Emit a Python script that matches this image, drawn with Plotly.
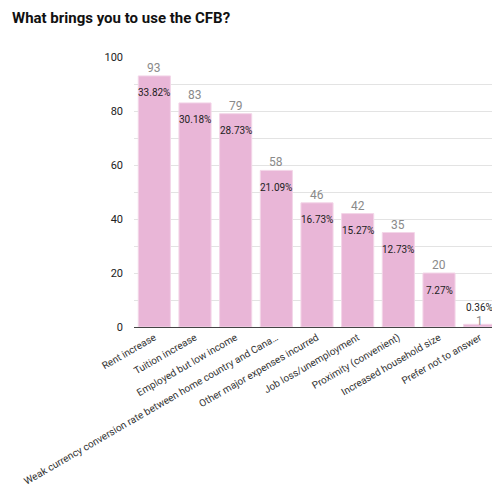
import plotly.graph_objects as go

categories = [
    "Rent increase",
    "Tuition increase",
    "Employed but low income",
    "Weak currency conversion rate between home country and Cana…",
    "Other major expenses incurred",
    "Job loss/unemployment",
    "Proximity (convenient)",
    "Increased household size",
    "Prefer not to answer",
]
counts = [93, 83, 79, 58, 46, 42, 35, 20, 1]
percents = ["33.82%", "30.18%", "28.73%", "21.09%", "16.73%", "15.27%", "12.73%", "7.27%", "0.36%"]
y_tick_vals = [0, 10, 20, 30, 40, 50, 60, 70, 80, 90, 100]
y_tick_text = ["0", "", "20", "", "40", "", "60", "", "80", "", "100"]

fig = go.Figure()
fig.add_trace(go.Bar(
    x=categories, y=counts,
    marker=dict(color="#e9b6d7", line=dict(color="#f3d6e8", width=1)),
    width=0.79,
    hoverinfo="skip",
))

annotations = []
for i, (c, v, p) in enumerate(zip(categories, counts, percents)):
    small = v < 5
    annotations.append(dict(
        x=c, y=v, xref="x", yref="y", text=str(v), showarrow=False,
        yanchor="middle", yshift=3 if small else 8,
        font=dict(family="Roboto, Arial, sans-serif", size=12, color="#8a8a8a"),
    ))
    annotations.append(dict(
        x=c, y=v, xref="x", yref="y", text=p, showarrow=False,
        yanchor="middle", yshift=17 if small else -17,
        font=dict(family="Roboto, Arial, sans-serif", size=10, color="#222222"),
    ))

# page has an 8px body margin, so the figure is 8px smaller and shifted
fig.update_layout(
    width=492, height=487,
    margin=dict(l=126, r=0, t=49, b=168, autoexpand=False),
    paper_bgcolor="white", plot_bgcolor="white",
    showlegend=False,
    bargap=0.2,
    title=dict(
        text="<b>What brings you to use the CFB?</b>",
        xref="container", x=4 / 492, xanchor="left",
        yref="container", y=1 - 10 / 487, yanchor="middle",
        font=dict(family="Roboto, Arial, sans-serif", size=15, color="#111111"),
    ),
    annotations=annotations,
    xaxis=dict(
        tickangle=-30, showgrid=False, ticks="", automargin=False,
        showline=True, linecolor="#444444", linewidth=1,
        tickfont=dict(family="Roboto, Arial, sans-serif", size=10, color="#333333"),
        range=[-0.5, len(categories) - 0.5],
    ),
    yaxis=dict(
        range=[0, 100], tickmode="array", tickvals=y_tick_vals, ticktext=y_tick_text,
        ticks="", automargin=False,
        showgrid=True, gridcolor="#e3e3e3", gridwidth=1,
        zeroline=False, showline=False, ticklabelstandoff=10,
        tickfont=dict(family="Roboto, Arial, sans-serif", size=11, color="#222222"),
    ),
)

fig.write_html("out.html")
